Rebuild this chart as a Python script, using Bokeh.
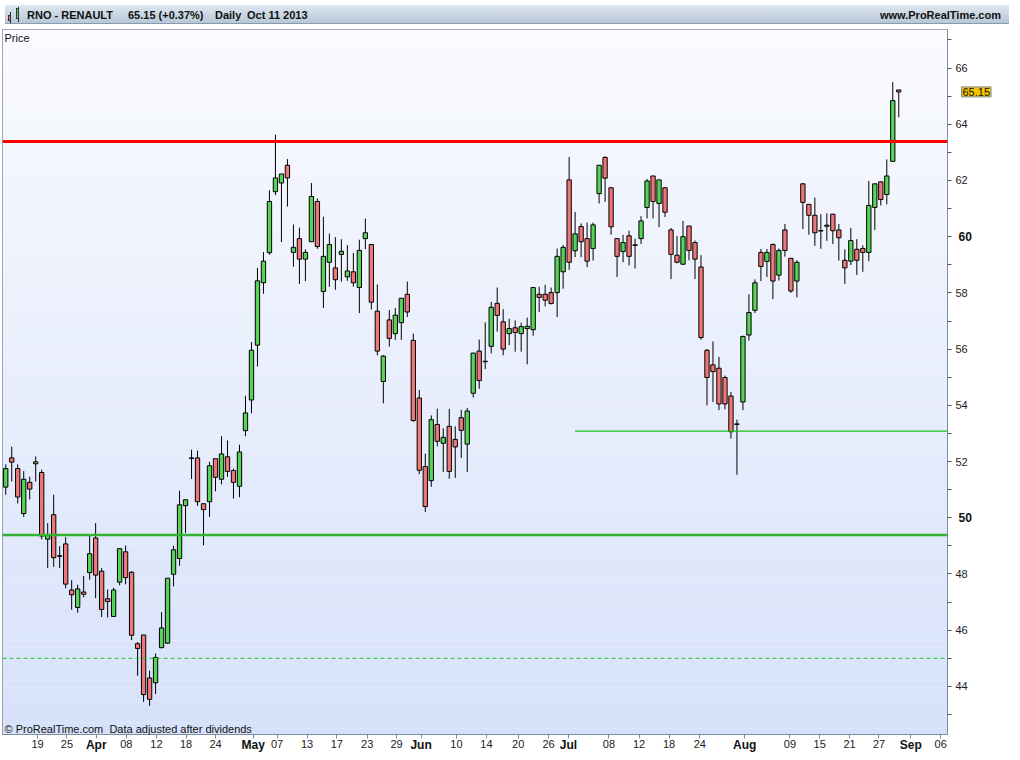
from bokeh.plotting import figure
from bokeh.models import Range1d, FixedTicker, Span, Label, Div, ColumnDataSource, LinearAxis
from bokeh.layouts import column
from bokeh.embed import file_html
from bokeh.resources import INLINE

# ---------------- data (daily candles, index = trading day) ----------------
opens = [51.09, 52.13, 51.75, 50.15, 51.26, 51.92, 51.61, 49.24, 50.11, 48.65,
         49.07, 47.43, 46.81, 47.36, 48.05, 49.28, 48.10, 47.12, 46.49, 47.71,
         48.79, 48.06, 45.52, 45.83, 44.30, 44.13, 45.38, 45.54, 47.99, 48.55,
         50.43, 52.13, 52.13, 50.50, 50.57, 52.10, 51.37, 52.17, 51.68, 51.12,
         53.10, 54.19, 56.14, 58.36, 59.43, 61.60, 61.91, 62.54, 59.44, 59.93,
         59.20, 59.82, 61.25, 58.05, 59.09, 58.89, 59.37, 58.57, 58.75, 58.19,
         59.93, 59.72, 57.35, 54.85, 57.04, 56.55, 56.94, 57.95, 56.31, 54.26,
         51.82, 51.32, 53.32, 52.65, 53.25, 52.79, 53.56, 52.62, 54.43, 55.93,
         55.57, 56.10, 57.63, 56.97, 56.55, 56.76, 56.55, 56.73, 56.69, 57.95,
         57.95, 58.01, 58.01, 58.75, 62.02, 59.50, 60.36, 59.93, 59.58, 61.53,
         62.82, 61.74, 59.93, 59.47, 60.03, 59.71, 59.93, 61.04, 62.16, 61.18,
         61.74, 60.24, 59.34, 59.02, 60.38, 59.79, 58.92, 55.96, 55.44, 55.32,
         54.99, 54.33, 53.34, 54.12, 56.50, 57.38, 59.44, 59.12, 59.72, 58.63,
         60.24, 59.23, 58.42, 61.88, 61.15, 60.76, 60.22, 60.37, 60.80, 60.24,
         59.16, 59.13, 59.55, 59.58, 59.44, 61.04, 61.95, 61.50, 62.68, 65.22]
highs = [51.90, 52.53, 51.90, 51.66, 51.46, 52.18, 51.71, 49.81, 50.82, 48.99,
         49.31, 47.78, 47.62, 47.93, 49.37, 49.81, 48.21, 47.45, 47.51, 48.90,
         49.01, 48.10, 45.58, 45.83, 44.56, 45.17, 46.64, 47.85, 49.00, 50.96,
         50.64, 52.42, 52.39, 50.50, 51.99, 52.10, 52.90, 52.75, 51.75, 52.60,
         54.34, 56.25, 58.89, 59.45, 61.65, 63.63, 62.23, 62.76, 60.43, 60.32,
         59.55, 61.91, 61.36, 60.71, 60.11, 59.98, 59.91, 59.70, 59.42, 59.89,
         60.64, 59.72, 58.30, 55.79, 57.39, 57.46, 57.81, 58.40, 56.55, 54.55,
         52.28, 53.64, 53.88, 53.18, 53.87, 53.25, 53.84, 53.91, 55.86, 56.34,
         56.95, 57.68, 58.19, 57.42, 57.08, 57.02, 56.94, 57.12, 58.19, 58.22,
         58.29, 58.19, 59.58, 59.70, 62.83, 60.88, 60.47, 60.50, 60.50, 62.54,
         62.86, 61.74, 59.93, 60.07, 60.21, 59.93, 60.73, 62.05, 62.16, 62.02,
         61.74, 60.31, 60.03, 60.56, 60.38, 59.86, 59.34, 56.00, 56.27, 55.72,
         55.06, 54.48, 53.49, 56.48, 57.95, 58.48, 59.56, 59.56, 59.76, 59.58,
         60.45, 59.23, 59.16, 61.91, 61.15, 61.39, 60.80, 60.83, 60.80, 60.45,
         59.55, 60.31, 59.91, 59.69, 61.98, 61.88, 61.95, 62.75, 65.50, 65.22]
lows = [50.82, 51.29, 50.51, 50.03, 50.65, 51.29, 49.23, 48.21, 48.25, 48.21,
        47.49, 46.73, 46.62, 47.17, 47.80, 47.14, 46.47, 46.45, 46.49, 47.60,
        47.63, 45.65, 44.38, 43.45, 43.31, 43.73, 45.35, 45.51, 47.56, 48.29,
        49.46, 51.38, 50.42, 49.02, 50.03, 50.94, 51.19, 51.46, 50.68, 50.73,
        52.90, 53.72, 55.38, 57.97, 59.36, 61.48, 59.81, 61.07, 58.93, 58.32,
        58.42, 59.82, 59.57, 57.46, 58.21, 58.11, 58.40, 58.43, 58.22, 57.28,
        59.56, 57.41, 55.78, 54.07, 56.09, 56.33, 56.33, 57.14, 53.41, 51.55,
        50.20, 51.10, 52.54, 51.63, 51.39, 51.42, 52.13, 51.63, 54.28, 54.59,
        55.29, 55.85, 56.62, 55.78, 56.14, 55.91, 55.91, 55.46, 56.48, 57.32,
        57.52, 57.59, 57.14, 58.15, 58.82, 59.27, 59.27, 58.92, 59.15, 61.18,
        61.24, 60.07, 58.56, 59.09, 58.98, 58.87, 59.74, 60.65, 60.65, 60.34,
        60.70, 58.49, 59.05, 59.00, 59.16, 58.49, 56.33, 54.00, 54.12, 53.83,
        53.86, 52.82, 51.53, 53.83, 56.30, 57.28, 58.42, 58.56, 57.78, 58.44,
        59.29, 58.00, 57.84, 60.27, 60.07, 59.67, 59.57, 59.85, 59.74, 59.15,
        58.32, 58.99, 58.64, 58.75, 59.13, 60.24, 61.11, 61.15, 62.68, 64.25]
closes = [51.75, 51.98, 50.74, 51.37, 51.02, 51.99, 49.35, 49.39, 48.58, 48.63,
          47.64, 47.26, 47.47, 47.28, 48.72, 47.96, 46.74, 47.02, 47.43, 48.90,
          47.87, 45.82, 45.35, 43.71, 43.54, 45.03, 46.08, 47.85, 48.86, 50.46,
          50.64, 52.11, 50.57, 50.29, 51.85, 51.44, 52.27, 51.65, 51.26, 52.34,
          53.73, 55.96, 58.43, 59.13, 61.25, 62.09, 62.23, 62.09, 59.62, 59.20,
          59.44, 61.43, 59.65, 59.30, 59.72, 58.47, 59.48, 58.78, 58.36, 59.51,
          60.14, 57.67, 55.93, 55.75, 56.38, 57.21, 57.81, 57.32, 53.46, 51.69,
          50.40, 53.49, 52.72, 52.86, 51.65, 52.52, 53.11, 53.80, 55.86, 54.88,
          55.55, 57.49, 57.20, 56.00, 56.73, 56.59, 56.80, 56.81, 58.19, 57.84,
          57.74, 57.62, 59.30, 59.62, 59.09, 60.10, 59.82, 59.13, 60.42, 62.54,
          62.08, 60.35, 59.30, 59.79, 59.30, 59.69, 60.56, 61.98, 61.25, 62.02,
          60.87, 59.37, 59.09, 60.00, 59.51, 59.20, 56.41, 54.99, 55.20, 54.05,
          54.05, 53.06, 53.32, 56.45, 57.30, 58.36, 58.94, 59.44, 58.42, 59.51,
          59.51, 58.07, 59.09, 61.22, 60.76, 60.14, 60.20, 60.41, 60.21, 59.96,
          58.89, 59.86, 59.16, 59.44, 61.11, 61.88, 61.32, 62.16, 64.84, 65.15]

# x-axis ticks (position in trading-day index) and their labels
tick_pos = [5.30, 10.21, 15.11, 20.12, 25.14, 30.09, 35.00, 41.30, 45.26, 50.28,
            55.23, 60.30, 65.20, 69.30, 75.20, 80.20, 85.50, 90.56, 93.90, 100.65,
            105.66, 110.68, 115.80, 123.30, 130.85, 135.80, 140.80, 145.70, 151.00, 156.00]
tick_labels = ["19", "25", "Apr", "08", "12", "18", "24", "May", "07", "13",
               "17", "23", "29", "Jun", "10", "14", "20", "26", "Jul", "08",
               "12", "18", "24", "Aug", "09", "15", "21", "27", "Sep", "06"]
month_labels = ["Apr", "May", "Jun", "Jul", "Aug", "Sep"]

price_ticks = [44, 46, 48, 50, 52, 54, 56, 58, 60, 62, 64, 66]
price_minor = [43, 45, 47, 49, 51, 53, 55, 57, 59, 61, 63, 65, 67]
bold_prices = [50, 60]

resistance_level = 63.39
support_level = 49.39
support_dashed = 45.0
short_support_level = 53.08
short_support_start = 95

last_close = 65.15

# ---------------- figure ----------------
X_LO, X_HI = -0.54, 157.13
Y_LO, Y_HI = 42.29, 67.37
AXIS_GREY = "#7d8ea0"
FONT = "Liberation Sans"

p = figure(width=1004, height=725, x_range=Range1d(X_LO, X_HI), y_range=Range1d(Y_LO, Y_HI),
           output_backend="svg", toolbar_location=None, y_axis_location="right",
           min_border_left=2, min_border_right=54, min_border_top=0, min_border_bottom=20)
p.background_fill_color = "#f9faff"
p.border_fill_color = "white"
p.outline_line_color = AXIS_GREY
p.grid.visible = False

# background gradient bands
nb = 120
step = (Y_HI - Y_LO) / nb
bot_c = (214, 225, 250)
top_c = (250, 251, 255)
bb, bt, bc = [], [], []
for i in range(nb):
    t = (i + 0.5) / nb
    c = tuple(int(round(bot_c[k] + (top_c[k] - bot_c[k]) * t)) for k in range(3))
    bb.append(Y_LO + i * step)
    bt.append(Y_LO + (i + 1) * step + 0.001)
    bc.append("#%02x%02x%02x" % c)
p.quad(left=X_LO, right=X_HI, bottom=bb, top=bt, fill_color=bc, line_color=None)

# candles
n = len(opens)
idx = list(range(n))
up = [c >= o for o, c in zip(opens, closes)]
src = ColumnDataSource(dict(
    x=idx, high=highs, low=lows,
    top=[max(o, c) for o, c in zip(opens, closes)],
    bottom=[min(o, c) for o, c in zip(opens, closes)],
    color=["#55d455" if u else "#f07777" for u in up],
))
p.segment(x0="x", y0="high", x1="x", y1="low", source=src, line_color="black", line_width=1)
p.vbar(x="x", width=0.72, top="top", bottom="bottom", source=src,
       fill_color="color", line_color="black", line_width=1)

# horizontal levels
p.add_layout(Span(location=resistance_level, dimension="width", line_color="#ff0000", line_width=3))
p.add_layout(Span(location=support_level, dimension="width", line_color="#33b233", line_width=2.5))
p.add_layout(Span(location=support_dashed, dimension="width", line_color="#22c522", line_width=1,
                  line_dash="4 3"))
p.segment(x0=[short_support_start], y0=[short_support_level], x1=[X_HI], y1=[short_support_level],
          line_color="#18c018", line_width=1.2)

# ---- x axis: day labels (normal) ----
xa = p.xaxis[0]
xa.ticker = FixedTicker(ticks=tick_pos, minor_ticks=[])
xa.major_label_overrides = {t: ("" if l in month_labels else l) for t, l in zip(tick_pos, tick_labels)}
xa.major_tick_in = 0
xa.major_tick_out = 4
xa.minor_tick_out = 0
xa.minor_tick_in = 0
xa.major_label_standoff = 1
xa.axis_line_color = AXIS_GREY
xa.major_tick_line_color = AXIS_GREY
xa.major_label_text_font = FONT
xa.major_label_text_font_size = "11px"
xa.major_label_text_color = "#222222"

# ---- x axis: month labels (bold), drawn on the same row ----
month_pos = [t for t, l in zip(tick_pos, tick_labels) if l in month_labels]
xm = LinearAxis(ticker=FixedTicker(ticks=month_pos, minor_ticks=[]),
                major_label_overrides={t: l for t, l in zip(tick_pos, tick_labels) if l in month_labels})
xm.axis_line_color = None
xm.major_tick_line_color = None
xm.minor_tick_line_color = None
xm.major_tick_in = 0
xm.major_tick_out = 0
xm.major_label_standoff = -13
xm.major_label_text_font = FONT
xm.major_label_text_font_size = "12px"
xm.major_label_text_font_style = "bold"
xm.major_label_text_color = "#111111"
p.add_layout(xm, "below")

# ---- y axis (right) ----
ya = p.yaxis[0]
ya.ticker = FixedTicker(ticks=price_ticks, minor_ticks=price_minor)
ya.major_label_overrides = {v: "" for v in bold_prices}
ya.major_tick_in = 0
ya.major_tick_out = 4
ya.minor_tick_in = 0
ya.minor_tick_out = 4
ya.major_label_standoff = 4
ya.axis_line_color = AXIS_GREY
ya.major_tick_line_color = "#555555"
ya.minor_tick_line_color = "#555555"
ya.major_label_text_font = FONT
ya.major_label_text_font_size = "11px"
ya.major_label_text_color = "#222222"

yb = LinearAxis(ticker=FixedTicker(ticks=bold_prices, minor_ticks=[]))
yb.axis_line_color = None
yb.major_tick_line_color = None
yb.minor_tick_line_color = None
yb.major_tick_in = 0
yb.major_tick_out = 0
yb.major_label_standoff = -12
yb.major_label_text_font = FONT
yb.major_label_text_font_size = "12px"
yb.major_label_text_font_style = "bold"
yb.major_label_text_color = "#111111"
p.add_layout(yb, "right")

# last price tag (in the right side panel, shifted back onto the axis column)
p.add_layout(Label(x=-13, x_units="screen", y=last_close, y_units="data",
                   text="%.2f" % last_close, text_align="left", text_baseline="middle",
                   text_font=FONT, text_font_size="11px", text_color="#111111",
                   background_fill_color="#f4c400", border_line_color=AXIS_GREY,
                   border_line_width=1, padding=1), "right")

# texts inside frame
p.add_layout(Label(x=2, x_units="screen", y=697, y_units="screen", text="Price",
                   text_align="left", text_baseline="middle",
                   text_font=FONT, text_font_size="11px", text_color="#111111"))
p.add_layout(Label(x=2, x_units="screen", y=6, y_units="screen",
                   text="\u00a9 ProRealTime.com\u00a0 Data adjusted after dividends",
                   text_align="left", text_baseline="middle",
                   text_font=FONT, text_font_size="11px", text_color="#111111"))

# ---------------- title bar ----------------
header = """
<div style="position:relative;width:1004px;height:19px;box-sizing:border-box;
background:linear-gradient(#dfe7ef,#b6c7d6);border-bottom:1px solid #8a9bad;
font-family:'Liberation Sans',Arial,sans-serif;font-weight:bold;font-size:11px;color:#111;white-space:pre;">
<div style="position:absolute;left:5px;top:7px;width:1px;height:11px;background:#222;"></div>
<div style="position:absolute;left:3px;top:10px;width:3px;height:6px;background:#ee6f6f;border:1px solid #333;"></div>
<div style="position:absolute;left:13px;top:2px;width:1px;height:15px;background:#222;"></div>
<div style="position:absolute;left:11px;top:3px;width:3px;height:11px;background:#55d455;border:1px solid #333;"></div>
<span style="position:absolute;left:22px;top:3px;">RNO - RENAULT</span>
<span style="position:absolute;left:123px;top:3px;">65.15 (+0.37%)</span>
<span style="position:absolute;left:210px;top:3px;">Daily</span>
<span style="position:absolute;left:242px;top:3px;">Oct 11 2013</span>
<span style="position:absolute;right:8px;top:3px;">www.ProRealTime.com</span>
</div>
"""
div = Div(text=header, width=1004, height=19)

layout = column(div, p, spacing=0)
open("out.html", "w").write(file_html(layout, INLINE))
